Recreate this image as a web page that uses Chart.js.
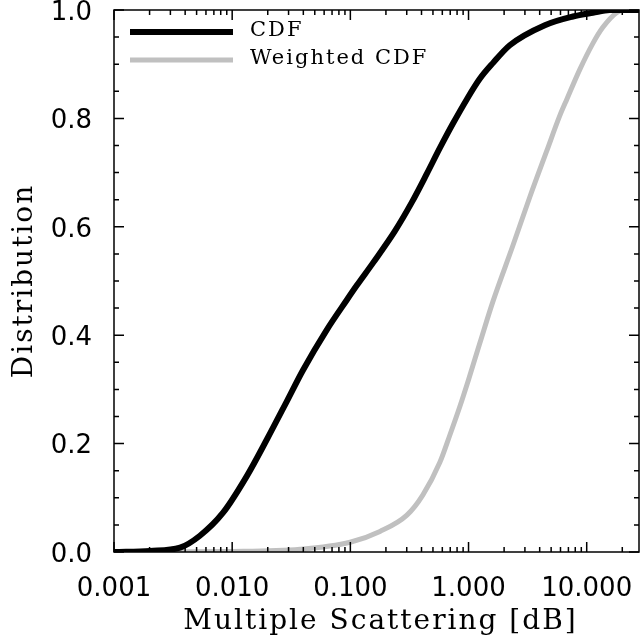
<!DOCTYPE html>
<html>
<head>
<meta charset="utf-8">
<script src="https://cdn.jsdelivr.net/npm/chart.js@4.4.1/dist/chart.umd.min.js"></script>
<style>
  html, body { margin: 0; padding: 0; background: #fff; }
  #wrap { width: 640px; height: 643px; }
</style>
</head>
<body>
<div id="wrap"><canvas id="cdfChart" width="640" height="643"></canvas></div>
<script>
// values (x in dB on a log axis)
const cdfX = [0.001, 0.00202, 0.00362, 0.00533, 0.00834, 0.0133, 0.0197, 0.029, 0.0396, 0.0632, 0.0933, 0.1135, 0.155, 0.238, 0.331, 0.444, 0.571, 0.736, 0.966, 1.245, 1.607, 2.234, 4.426, 7.64, 11.27, 15.7, 27.7];
const cdfY = [0.000, 0.002, 0.008, 0.030, 0.072, 0.140, 0.208, 0.278, 0.335, 0.410, 0.465, 0.492, 0.533, 0.592, 0.645, 0.698, 0.745, 0.790, 0.835, 0.873, 0.902, 0.935, 0.972, 0.988, 0.995, 1.000, 1.000];

const wcdfX = [0.001, 0.01, 0.0376, 0.0995, 0.178, 0.301, 0.410, 0.571, 0.693, 0.843, 1.0, 1.245, 1.607, 2.37, 3.30, 4.59, 5.92, 6.78, 8.73, 11.25, 13.7, 17.9, 20.9, 27.7];
const wcdfY = [0.000, 0.001, 0.005, 0.018, 0.038, 0.068, 0.105, 0.165, 0.215, 0.268, 0.318, 0.385, 0.462, 0.565, 0.655, 0.740, 0.805, 0.835, 0.890, 0.938, 0.968, 0.995, 1.000, 1.000];

const seriesNames = ['CDF', 'Weighted CDF'];
const seriesColors = ['#000000', '#c0c0c0'];
const xTitle = 'Multiple Scattering [dB]';
const yTitle = 'Distribution';
const xMin = 0.001, xMax = 27.7;
const yMin = 0, yMax = 1.0;

function toPoints(xs, ys) {
    return xs.map((x, i) => ({ x: x, y: ys[i] }));
}

function isDecade(v) {
    const l = Math.log10(v);
    return Math.abs(l - Math.round(l)) < 1e-9;
}

function isLogMinor(v) {
    const m = v / Math.pow(10, Math.floor(Math.log10(v) + 1e-9));
    return Math.abs(m - Math.round(m)) < 1e-6;
}

function isYMajor(v) {
    return v > -1e-6 && Math.abs(v / 0.2 - Math.round(v / 0.2)) < 1e-6;
}

// box with inward ticks on all four sides
const boxTicks = {
    id: 'boxTicks',
    afterDraw(chart) {
        const ctx = chart.ctx;
        const a = chart.chartArea;
        const xs = chart.scales.x, ys = chart.scales.y;
        ctx.save();
        ctx.strokeStyle = '#000';
        ctx.lineWidth = 1.5;
        ctx.strokeRect(a.left, a.top, a.right - a.left, a.bottom - a.top);
        ctx.beginPath();
        xs.ticks.forEach(t => {
            if (t.value < xMin || t.value > xMax || !isLogMinor(t.value)) return;
            const px = xs.getPixelForValue(t.value);
            const len = isDecade(t.value) ? 10 : 5;
            ctx.moveTo(px, a.bottom); ctx.lineTo(px, a.bottom - len);
            ctx.moveTo(px, a.top); ctx.lineTo(px, a.top + len);
        });
        ys.ticks.forEach(t => {
            const py = ys.getPixelForValue(t.value);
            const len = isYMajor(t.value) ? 10 : 5;
            ctx.moveTo(a.left, py); ctx.lineTo(a.left + len, py);
            ctx.moveTo(a.right, py); ctx.lineTo(a.right - len, py);
        });
        ctx.stroke();
        ctx.restore();
    }
};

// axis titles and legend, drawn in the wide serif look of the original
const textLayer = {
    id: 'textLayer',
    afterDraw(chart) {
        const ctx = chart.ctx;
        const a = chart.chartArea;
        ctx.save();
        ctx.letterSpacing = '2px';
        ctx.fillStyle = '#000';
        ctx.textBaseline = 'middle';
        ctx.textAlign = 'center';
        ctx.font = '28px "DejaVu Serif"';
        ctx.fillText(xTitle, (a.left + a.right) / 2 + 4, 622);
        ctx.save();
        ctx.translate(25, (a.top + a.bottom) / 2);
        ctx.rotate(-Math.PI / 2);
        ctx.fillText(yTitle, 0, 0);
        ctx.restore();

        ctx.textAlign = 'left';
        ctx.font = '21px "DejaVu Serif"';
        chart.data.datasets.forEach((ds, i) => {
            const y = a.top + 22 + i * 28;
            ctx.strokeStyle = ds.borderColor;
            ctx.lineWidth = ds.borderWidth;
            ctx.beginPath();
            ctx.moveTo(a.left + 16, y);
            ctx.lineTo(a.left + 119, y);
            ctx.stroke();
            ctx.fillText(ds.label, a.left + 136, y - 1);
        });
        ctx.restore();
    }
};

const ctx = document.getElementById('cdfChart').getContext('2d');
new Chart(ctx, {
    type: 'line',
    data: {
        datasets: [
            {
                label: seriesNames[0],
                data: toPoints(cdfX, cdfY),
                borderColor: seriesColors[0],
                borderWidth: 6,
                pointRadius: 0,
                cubicInterpolationMode: 'monotone',
                fill: false
            },
            {
                label: seriesNames[1],
                data: toPoints(wcdfX, wcdfY),
                borderColor: seriesColors[1],
                borderWidth: 5,
                pointRadius: 0,
                cubicInterpolationMode: 'monotone',
                fill: false
            }
        ]
    },
    options: {
        responsive: false,
        animation: false,
        layout: { padding: { top: 10, right: 1, left: 0, bottom: 0 } },
        plugins: {
            legend: { display: false },
            tooltip: { enabled: false }
        },
        scales: {
            x: {
                type: 'logarithmic',
                min: xMin,
                max: xMax,
                grid: { display: false },
                border: { display: false },
                afterFit: s => {
                    s.height = 91;
                    s.paddingLeft = 0; s.paddingRight = 0;
                },
                ticks: {
                    autoSkip: false,
                    maxRotation: 0,
                    padding: 14,
                    color: '#000',
                    font: { family: 'DejaVu Sans', size: 26 },
                    callback: v => isDecade(v) ? v.toFixed(3) : ''
                }
            },
            y: {
                min: yMin,
                max: yMax,
                grid: { display: false },
                border: { display: false },
                afterFit: s => {
                    s.width = 114;
                    s.paddingTop = 0; s.paddingBottom = 0;
                },
                ticks: {
                    stepSize: 0.05,
                    autoSkip: false,
                    padding: 14,
                    labelOffset: 3,
                    color: '#000',
                    font: { family: 'DejaVu Sans', size: 26 },
                    callback: v => isYMajor(v) ? Math.abs(v).toFixed(1) : ''
                }
            }
        }
    },
    plugins: [boxTicks, textLayer]
});
</script>
</body>
</html>
